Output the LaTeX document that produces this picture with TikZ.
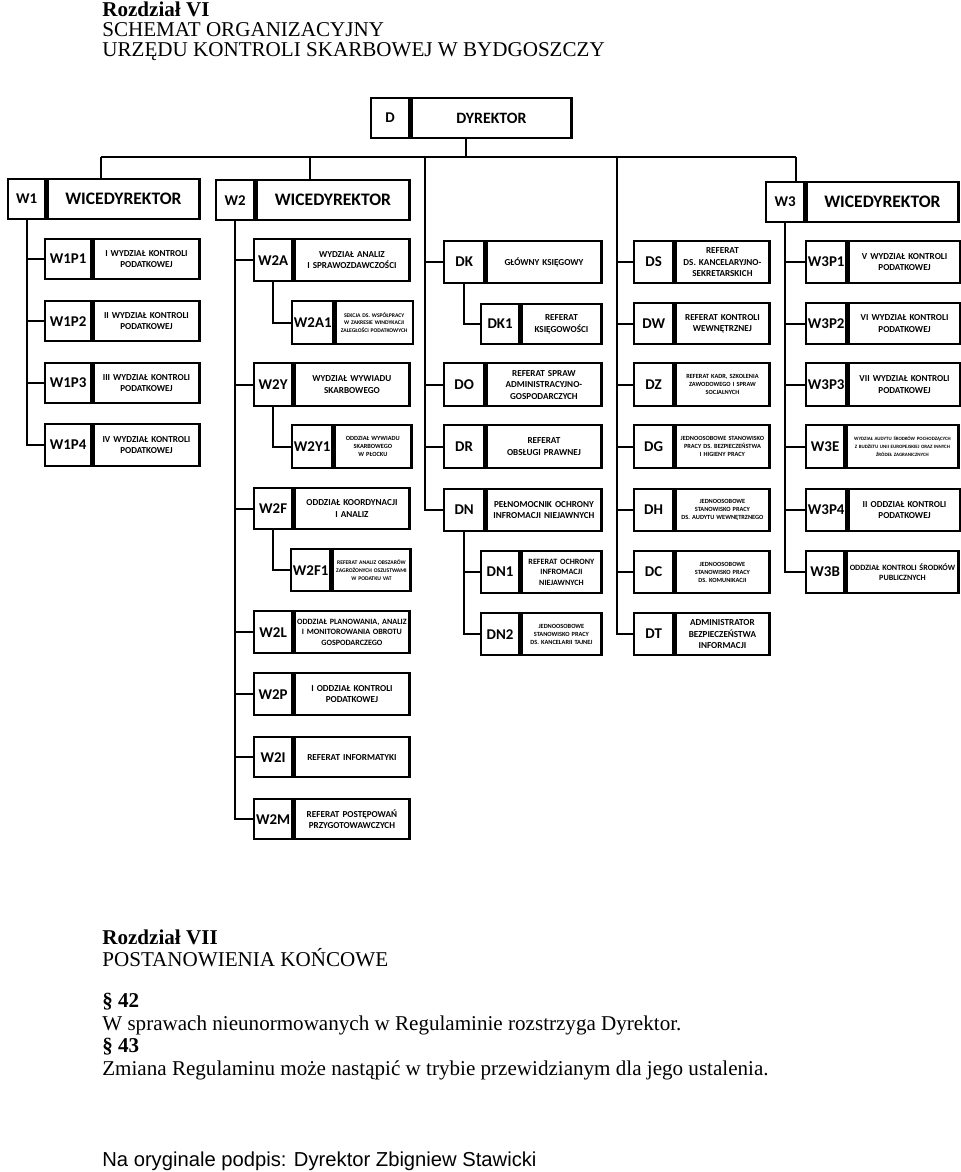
\documentclass[tikz,border=0pt]{standalone}
\usepackage{fontspec}
\setmainfont{Liberation Serif}
\newfontfamily\boxfont{Carlito}
\newfontfamily\signfont{Liberation Sans}
\usetikzlibrary{positioning}
\newcommand\sm{\fontsize{5.2}{6.6}\selectfont}
\newcommand\md{\fontsize{4.6}{6}\selectfont}
\newcommand\xs{\fontsize{3.6}{4.6}\selectfont}
\newcommand\xxs{\fontsize{3.2}{4.4}\selectfont}
\newcommand\bg{\fontsize{10}{11}\selectfont}
\tikzset{
  codecell/.style = {draw, line width=1.3pt, inner sep=1pt, align=center,
    font=\boxfont\bfseries\fontsize{8.5}{9}\selectfont},
  textcell/.style = {draw, line width=1.3pt, inner sep=0.5pt, align=center},
  link/.style = {line width=1.2pt},
  para/.style = {anchor=west, inner sep=0pt, font=\fontsize{12}{14}\selectfont}
}
% box: [font], name, x, y, code width, right x, bottom y, code, text
\newcommand\orgbox[9][\sm]{%
  \node[codecell, anchor=north west, minimum width={#5*0.02cm},
    minimum height={(#7-#4)*0.02cm}] (#2c) at (#3,#4) {#8};
  \node[textcell, font={\boxfont\bfseries\hyphenpenalty=10000#1}, anchor=north west,
    text width={(#6-#3-#5)*0.02cm-1pt},
    minimum height={(#7-#4)*0.02cm}] (#2) at (#2c.north east) {#9};}
\begin{document}
\begin{tikzpicture}[x=0.02cm, y=-0.02cm]
\useasboundingbox (0,0) rectangle (960,1172);
% header
\node[para, font=\fontsize{12}{14}\selectfont\bfseries] (h1) at (102,9) {Rozdział VI};
\node[para] (h2) at (102,30) {SCHEMAT ORGANIZACYJNY};
\node[para] (h3) at (102,52) {URZĘDU KONTROLI SKARBOWEJ W BYDGOSZCZY};
% top level
\orgbox[\fontsize{9}{10}\selectfont]{D}{370}{97}{38}{568}{137}{D}{DYREKTOR}
\orgbox[\bg]{W1}{7}{178}{37}{196}{218}{W1}{WICEDYREKTOR}
\orgbox[\bg]{W2}{215}{179}{38}{406}{219}{W2}{WICEDYREKTOR}
\orgbox[\bg]{W3}{765}{181}{38}{955}{221}{W3}{WICEDYREKTOR}
% W1 column
\orgbox{W1P1}{44}{238}{46}{196}{278}{W1P1}{I WYDZIAŁ KONTROLI\\PODATKOWEJ}
\orgbox{W1P2}{44}{300}{46}{196}{340}{W1P2}{II WYDZIAŁ KONTROLI\\PODATKOWEJ}
\orgbox{W1P3}{44}{362}{46}{196}{402}{W1P3}{III WYDZIAŁ KONTROLI\\PODATKOWEJ}
\orgbox{W1P4}{44}{423}{46}{196}{465}{W1P4}{IV WYDZIAŁ KONTROLI\\PODATKOWEJ}
% W2 column
\orgbox{W2A}{253}{238}{38}{406}{280}{W2A}{WYDZIAŁ ANALIZ\\I SPRAWOZDAWCZOŚCI}
\orgbox[\xxs]{W2Aa}{291}{300}{38}{406}{343}{W2A1}{SEKCJA DS. WSPÓŁPRACY\\W ZAKRESIE WINDYKACJI\\ZALEGŁOŚCI PODATKOWYCH}
\orgbox{W2Y}{253}{362}{38}{406}{405}{W2Y}{WYDZIAŁ WYWIADU\\SKARBOWEGO}
\orgbox[\xs]{W2Ya}{291}{424}{38}{406}{467}{W2Y1}{ODDZIAŁ WYWIADU\\SKARBOWEGO\\W PŁOCKU}
\orgbox{W2F}{253}{487}{38}{406}{528}{W2F}{ODDZIAŁ KOORDYNACJI\\I ANALIZ}
\orgbox[\xxs]{W2Fa}{290}{548}{38}{406}{590}{W2F1}{REFERAT ANALIZ OBSZARÓW\\ZAGROŻONYCH OSZUSTWAMI\\W PODATKU VAT}
\orgbox[\md]{W2L}{253}{610}{38}{406}{652}{W2L}{ODDZIAŁ PLANOWANIA, ANALIZ\\I MONITOROWANIA OBROTU\\GOSPODARCZEGO}
\orgbox{W2P}{253}{672}{38}{406}{714}{W2P}{I ODDZIAŁ KONTROLI\\PODATKOWEJ}
\orgbox{W2I}{253}{736}{38}{406}{776}{W2I}{REFERAT INFORMATYKI}
\orgbox{W2M}{253}{798}{38}{406}{838}{W2M}{REFERAT POSTĘPOWAŃ\\PRZYGOTOWAWCZYCH}
% director, left column
\orgbox{DK}{443}{240}{40}{598}{282}{DK}{GŁÓWNY KSIĘGOWY}
\orgbox{DKa}{480}{303}{38}{598}{343}{DK1}{REFERAT\\KSIĘGOWOŚCI}
\orgbox{DO}{443}{362}{40}{598}{405}{DO}{REFERAT SPRAW\\ADMINISTRACYJNO-\\GOSPODARCZYCH}
\orgbox{DR}{443}{424}{40}{598}{467}{DR}{REFERAT\\OBSŁUGI PRAWNEJ}
\orgbox{DN}{443}{488}{40}{598}{530}{DN}{PEŁNOMOCNIK OCHRONY\\INFROMACJI NIEJAWNYCH}
\orgbox[\md]{DNa}{480}{550}{38}{598}{592}{DN1}{REFERAT OCHRONY\\INFROMACJI\\NIEJAWNYCH}
\orgbox[\xs]{DNb}{480}{612}{38}{598}{654}{DN2}{JEDNOOSOBOWE\\STANOWISKO PRACY\\DS. KANCELARII TAJNEJ}
% director, right column
\orgbox{DS}{633}{240}{39}{766}{282}{DS}{REFERAT\\DS. KANCELARYJNO-\\SEKRETARSKICH}
\orgbox{DW}{633}{302}{39}{766}{343}{DW}{REFERAT KONTROLI\\WEWNĘTRZNEJ}
\orgbox[\xs]{DZ}{633}{362}{39}{766}{405}{DZ}{REFERAT KADR, SZKOLENIA\\ZAWODOWEGO I SPRAW\\SOCJALNYCH}
\orgbox[\xs]{DG}{633}{424}{39}{766}{467}{DG}{JEDNOOSOBOWE STANOWISKO\\PRACY DS. BEZPIECZEŃSTWA\\I HIGIENY PRACY}
\orgbox[\xs]{DH}{633}{488}{39}{766}{530}{DH}{JEDNOOSOBOWE\\STANOWISKO PRACY\\DS. AUDYTU WEWNĘTRZNEGO}
\orgbox[\xs]{DC}{633}{550}{39}{766}{592}{DC}{JEDNOOSOBOWE\\STANOWISKO PRACY\\DS. KOMUNIKACJI}
\orgbox{DT}{633}{612}{39}{766}{654}{DT}{ADMINISTRATOR\\BEZPIECZEŃSTWA\\INFORMACJI}
% W3 column
\orgbox{W3P1}{805}{240}{38}{955}{282}{W3P1}{V WYDZIAŁ KONTROLI\\PODATKOWEJ}
\orgbox{W3P2}{805}{302}{38}{955}{343}{W3P2}{VI WYDZIAŁ KONTROLI\\PODATKOWEJ}
\orgbox{W3P3}{805}{362}{38}{955}{405}{W3P3}{VII WYDZIAŁ KONTROLI\\PODATKOWEJ}
\orgbox[\fontsize{2.8}{4.4}\selectfont]{W3E}{805}{424}{38}{955}{467}{W3E}{WYDZIAŁ AUDYTU ŚRODKÓW POCHODZĄCYCH\\Z BUDŻETU UNII EUROPEJSKIEJ ORAZ INNYCH\\ŹRÓDEŁ ZAGRANICZNYCH}
\orgbox{W3P4}{805}{488}{38}{955}{530}{W3P4}{II ODDZIAŁ KONTROLI\\PODATKOWEJ}
\orgbox[\md]{W3B}{805}{550}{38}{955}{592}{W3B}{ODDZIAŁ KONTROLI ŚRODKÓW\\PUBLICZNYCH}
% bus from the director
\coordinate (bw1) at (101,157);
\coordinate (bw2) at (310,157);
\coordinate (bdl) at (425,157);
\coordinate (bdr) at (617,157);
\coordinate (bw3) at (796,157);
\draw[link] (D.south -| 466,0) -- (466,157);
\draw[link] (bw1) -- (bw3);
\draw[link] (bw1) -- (bw1 |- W1.north);
\draw[link] (bw2) -- (bw2 |- W2.north);
\draw[link] (bw3) -- (bw3 |- W3.north);
% spines
\foreach \n in {W1P1,W1P2,W1P3,W1P4}
  \draw[link] (W1c.south) |- (\n c.west);
\foreach \n in {W2A,W2Y,W2F,W2L,W2P,W2I,W2M}
  \draw[link] (W2c.south) |- (\n c.west);
\draw[link] (W2Ac.south) |- (W2Aac.west);
\draw[link] (W2Yc.south) |- (W2Yac.west);
\draw[link] (W2Fc.south) |- (W2Fac.west);
\foreach \n in {DK,DO,DR,DN}
  \draw[link] (bdl) |- (\n c.west);
\draw[link] (DKc.south) |- (DKac.west);
\foreach \n in {DNa,DNb}
  \draw[link] (DNc.south) |- (\n c.west);
\foreach \n in {DS,DW,DZ,DG,DH,DC,DT}
  \draw[link] (bdr) |- (\n c.west);
\foreach \n in {W3P1,W3P2,W3P3,W3E,W3P4,W3B}
  \draw[link] (W3c.south) |- (\n c.west);
% closing chapter
\node[para, font=\fontsize{12}{14}\selectfont\bfseries] (r1) at (102,937) {Rozdział VII};
\node[para] (r2) at (102,958) {POSTANOWIENIA KOŃCOWE};
\node[para, font=\fontsize{12}{14}\selectfont\bfseries] (p42) at (102,1002) {§ 42};
\node[para] (t42) at (102,1025) {W sprawach nieunormowanych w Regulaminie rozstrzyga Dyrektor.};
\node[para, font=\fontsize{12}{14}\selectfont\bfseries] (p43) at (102,1047) {§ 43};
\node[para] (t43) at (102,1070) {Zmiana Regulaminu może nastąpić w trybie przewidzianym dla jego ustalenia.};
\node[para, font=\signfont\fontsize{11.5}{13}\selectfont] (sig) at (102,1161) {Na oryginale podpis: Dyrektor Zbigniew Stawicki};
\end{tikzpicture}
\end{document}
